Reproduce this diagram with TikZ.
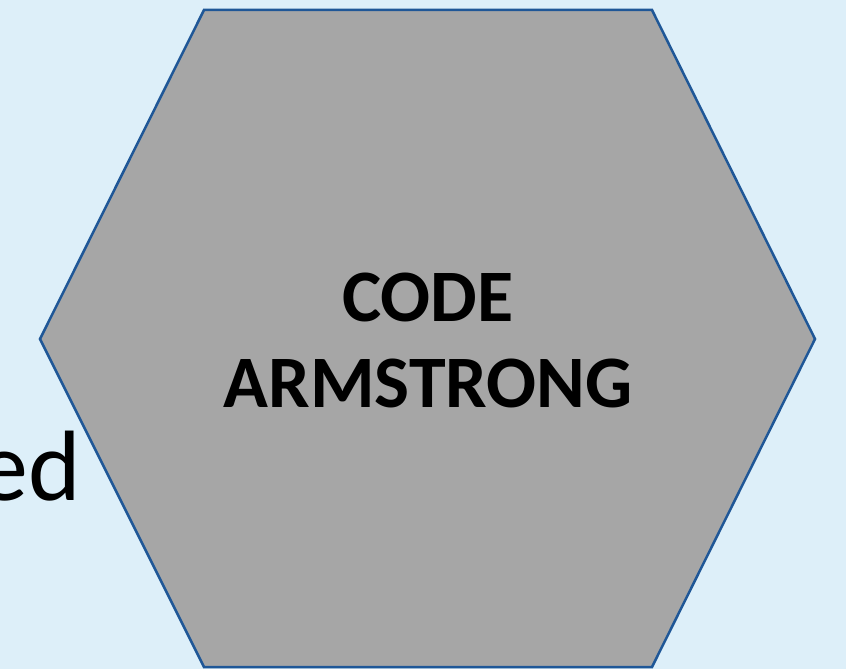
\documentclass[tikz,border=0pt]{standalone}
\usepackage{fontspec}
\setmainfont{Carlito}
\definecolor{bgblue}{HTML}{DDEFF9}
\definecolor{hexgray}{HTML}{A6A6A6}
\definecolor{hexline}{HTML}{1F5797}
\begin{document}
\begin{tikzpicture}[x=1pt,y=-1pt,
  hexstyle/.style={fill=hexgray,draw=hexline,line width=2.5pt,line join=miter},
  titletext/.style={font=\fontsize{74}{86}\selectfont\bfseries,align=center,text=black,inner sep=0pt},
  sidetext/.style={font=\fontsize{100}{120}\selectfont,text=black,inner sep=0pt}]
\fill[bgblue] (0,0) rectangle (846,669);
\useasboundingbox (0,0) rectangle (846,669);
\node[sidetext,anchor=base east] (ed) at (81,500) {ed};
\coordinate (h1) at (204,10);
\coordinate (h2) at (652,10);
\coordinate (h3) at (815,339);
\coordinate (h4) at (652,667);
\coordinate (h5) at (204,667);
\coordinate (h6) at (40,339);
\draw[hexstyle] (h1) -- (h2) -- (h3) -- (h4) -- (h5) -- (h6) -- cycle;
\node[titletext] (title) at (428,340) {CODE\\ARMSTRONG};
\end{tikzpicture}
\end{document}
